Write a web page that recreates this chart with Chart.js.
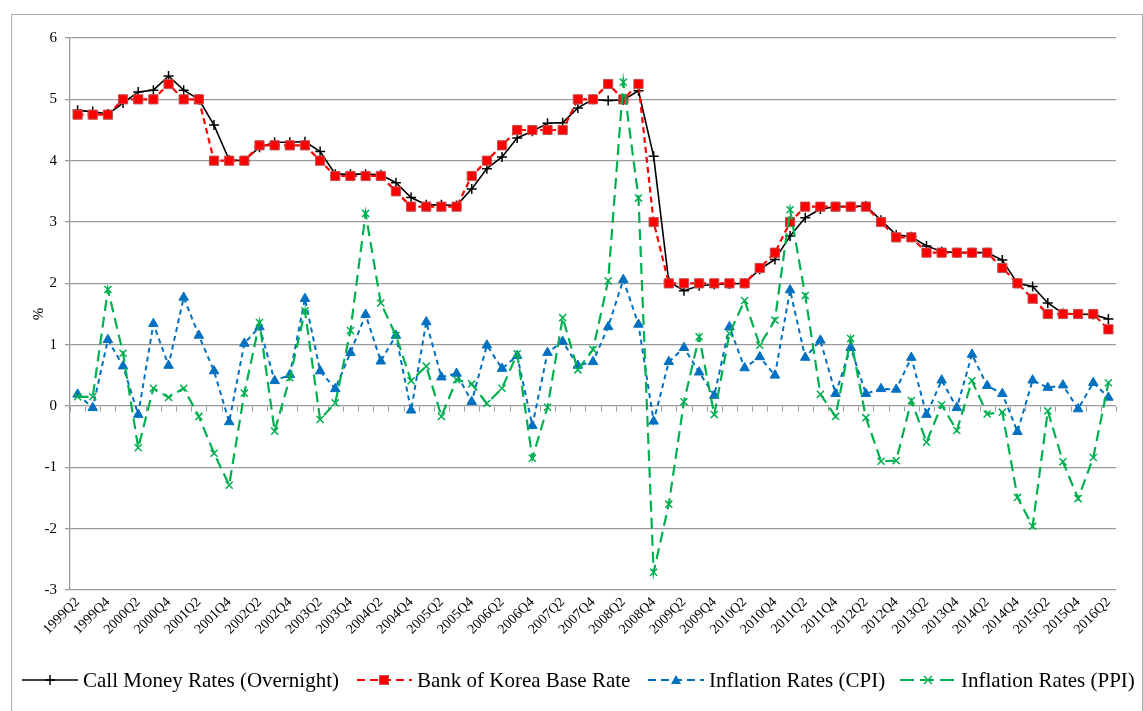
<!DOCTYPE html>
<html lang="en">
<head>
    <meta charset="UTF-8">
    <title>Korea Rates Chart</title>
    <script src="https://cdn.jsdelivr.net/npm/chart.js"></script>
    <style>
        body { margin: 0; background: #fff; }
        #wrap { position: relative; width: 1143px; height: 711px; overflow: hidden; }
        #frame { position: absolute; left: 11px; top: 14px; width: 1130px; height: 720px; border: 1px solid #b0b0b0; pointer-events: none; }
        #legend { position: absolute; left: 0; top: 666px; width: 1143px; height: 28px; font-family: "Liberation Serif", serif; font-size: 21px; }
        .item { position: absolute; top: 0; display: flex; align-items: center; height: 28px; white-space: nowrap; }
        .item svg { margin-right: 5px; }
    </style>
</head>
<body>
<div id="wrap">
    <canvas id="lineChart" width="1143" height="711"></canvas>
    <div id="frame"></div>
    <div id="legend">
        <div class="item" style="left:22px">
            <svg width="56" height="14"><line x1="0" y1="7" x2="56" y2="7" stroke="#000" stroke-width="1.5"/><line x1="28" y1="2" x2="28" y2="12" stroke="#000" stroke-width="1.5"/><line x1="23" y1="7" x2="33" y2="7" stroke="#000" stroke-width="1.5"/></svg>Call Money Rates (Overnight)
        </div>
        <div class="item" style="left:357px">
            <svg width="55" height="14"><line x1="0" y1="7" x2="55" y2="7" stroke="#ff0000" stroke-width="2.2" stroke-dasharray="8,5"/><rect x="22.5" y="2.5" width="9" height="9" fill="#ff0000" stroke="#c05050" stroke-width="1"/></svg>Bank of Korea Base Rate
        </div>
        <div class="item" style="left:648px">
            <svg width="56" height="14"><line x1="0" y1="7" x2="56" y2="7" stroke="#0070c0" stroke-width="2" stroke-dasharray="8,5"/><polygon points="28,2 33,11 23,11" fill="#0070c0"/></svg>Inflation Rates (CPI)
        </div>
        <div class="item" style="left:900px">
            <svg width="56" height="14"><line x1="0" y1="7" x2="56" y2="7" stroke="#00b050" stroke-width="2.2" stroke-dasharray="14,6"/><line x1="24" y1="3" x2="32" y2="11" stroke="#00b050" stroke-width="1.5"/><line x1="32" y1="3" x2="24" y2="11" stroke="#00b050" stroke-width="1.5"/></svg>Inflation Rates (PPI)
        </div>
    </div>
</div>
<script>
    const quarters = [
        '1999Q2','1999Q3','1999Q4','2000Q1','2000Q2','2000Q3','2000Q4','2001Q1','2001Q2','2001Q3',
        '2001Q4','2002Q1','2002Q2','2002Q3','2002Q4','2003Q1','2003Q2','2003Q3','2003Q4','2004Q1',
        '2004Q2','2004Q3','2004Q4','2005Q1','2005Q2','2005Q3','2005Q4','2006Q1','2006Q2','2006Q3',
        '2006Q4','2007Q1','2007Q2','2007Q3','2007Q4','2008Q1','2008Q2','2008Q3','2008Q4','2009Q1',
        '2009Q2','2009Q3','2009Q4','2010Q1','2010Q2','2010Q3','2010Q4','2011Q1','2011Q2','2011Q3',
        '2011Q4','2012Q1','2012Q2','2012Q3','2012Q4','2013Q1','2013Q2','2013Q3','2013Q4','2014Q1',
        '2014Q2','2014Q3','2014Q4','2015Q1','2015Q2','2015Q3','2015Q4','2016Q1','2016Q2'
    ];

    const callMoney = [
        4.82, 4.80, 4.76, 4.94, 5.12, 5.15, 5.38, 5.15, 5.00, 4.58,
        4.01, 4.00, 4.22, 4.30, 4.30, 4.31, 4.15, 3.78, 3.78, 3.78,
        3.77, 3.64, 3.40, 3.28, 3.28, 3.27, 3.54, 3.87, 4.06, 4.37,
        4.48, 4.61, 4.62, 4.86, 5.00, 4.98, 4.99, 5.14, 4.07, 2.03,
        1.88, 1.96, 1.98, 1.99, 2.00, 2.23, 2.39, 2.77, 3.07, 3.21,
        3.25, 3.25, 3.26, 3.03, 2.79, 2.76, 2.61, 2.52, 2.50, 2.50,
        2.50, 2.38, 2.00, 1.95, 1.68, 1.51, 1.50, 1.49, 1.42
    ];

    const baseRate = [
        4.75, 4.75, 4.75, 5.00, 5.00, 5.00, 5.25, 5.00, 5.00, 4.00,
        4.00, 4.00, 4.25, 4.25, 4.25, 4.25, 4.00, 3.75, 3.75, 3.75,
        3.75, 3.50, 3.25, 3.25, 3.25, 3.25, 3.75, 4.00, 4.25, 4.50,
        4.50, 4.50, 4.50, 5.00, 5.00, 5.25, 5.00, 5.25, 3.00, 2.00,
        2.00, 2.00, 2.00, 2.00, 2.00, 2.25, 2.50, 3.00, 3.25, 3.25,
        3.25, 3.25, 3.25, 3.00, 2.75, 2.75, 2.50, 2.50, 2.50, 2.50,
        2.50, 2.25, 2.00, 1.75, 1.50, 1.50, 1.50, 1.50, 1.25
    ];

    const cpi = [
        0.19, -0.03, 1.08, 0.65, -0.14, 1.34, 0.66, 1.77, 1.15, 0.57,
        -0.26, 1.02, 1.29, 0.41, 0.51, 1.75, 0.57, 0.28, 0.87, 1.49,
        0.73, 1.15, -0.07, 1.37, 0.47, 0.53, 0.07, 0.99, 0.61, 0.82,
        -0.32, 0.87, 1.05, 0.66, 0.72, 1.29, 2.06, 1.33, -0.25, 0.72,
        0.95, 0.55, 0.17, 1.29, 0.62, 0.80, 0.50, 1.89, 0.79, 1.07,
        0.20, 0.95, 0.20, 0.28, 0.27, 0.79, -0.14, 0.42, -0.03, 0.84,
        0.33, 0.20, -0.42, 0.42, 0.30, 0.34, -0.05, 0.38, 0.14
    ];

    const ppi = [
        0.15, 0.15, 1.90, 0.86, -0.68, 0.29, 0.14, 0.29, -0.17, -0.77,
        -1.29, 0.21, 1.36, -0.41, 0.46, 1.55, -0.22, 0.05, 1.23, 3.14,
        1.68, 1.15, 0.41, 0.65, -0.17, 0.43, 0.36, 0.04, 0.29, 0.85,
        -0.85, -0.02, 1.44, 0.59, 0.92, 2.04, 5.28, 3.39, -2.71, -1.60,
        0.07, 1.13, -0.14, 1.18, 1.72, 0.99, 1.40, 3.20, 1.80, 0.19,
        -0.17, 1.10, -0.19, -0.90, -0.89, 0.09, -0.59, 0.02, -0.40, 0.41,
        -0.13, -0.10, -1.49, -1.96, -0.08, -0.91, -1.51, -0.84, 0.38
    ];

    const serif = '"Liberation Serif", "Times New Roman", serif';

    // small tick marks on the zero line at category boundaries (like Excel)
    const zeroTicks = {
        id: 'zeroTicks',
        beforeDatasetsDraw(chart) {
            const x = chart.scales.x, y = chart.scales.y;
            const y0 = Math.round(y.getPixelForValue(0)) + 0.5;
            const ctx = chart.ctx;
            const n = quarters.length;
            const step = (x.right - x.left) / n;
            ctx.save();
            ctx.strokeStyle = '#9a9a9a';
            ctx.lineWidth = 1;
            ctx.beginPath();
            for (let i = 0; i <= n; i++) {
                const px = Math.round(x.left + i * step) + 0.5;
                ctx.moveTo(px, y0);
                ctx.lineTo(px, y0 + 5);
            }
            ctx.stroke();
            ctx.restore();
        }
    };

    const ctx = document.getElementById('lineChart').getContext('2d');
    new Chart(ctx, {
        type: 'line',
        data: {
            labels: quarters,
            datasets: [
                {
                    label: 'Call Money Rates (Overnight)',
                    data: callMoney,
                    borderColor: '#000000',
                    backgroundColor: '#000000',
                    borderWidth: 1.6,
                    pointStyle: 'cross',
                    pointRadius: 5,
                    pointBorderWidth: 1.5,
                    fill: false,
                    order: 4,
                },
                {
                    label: 'Bank of Korea Base Rate',
                    data: baseRate,
                    borderColor: '#ff0000',
                    backgroundColor: '#ff0000',
                    borderWidth: 2.2,
                    borderDash: [6, 4],
                    pointStyle: 'rect',
                    pointRadius: 6.5,
                    pointBackgroundColor: '#ff0000',
                    pointBorderColor: '#c05050',
                    pointBorderWidth: 1,
                    fill: false,
                    order: 3,
                },
                {
                    label: 'Inflation Rates (CPI)',
                    data: cpi,
                    borderColor: '#0070c0',
                    backgroundColor: '#0070c0',
                    borderWidth: 2,
                    borderDash: [5, 4],
                    pointStyle: 'triangle',
                    pointRadius: 5.5,
                    pointBorderWidth: 1,
                    fill: false,
                    order: 2,
                },
                {
                    label: 'Inflation Rates (PPI)',
                    data: ppi,
                    borderColor: '#00b050',
                    backgroundColor: '#00b050',
                    borderWidth: 2.2,
                    borderDash: [11, 6],
                    pointStyle: 'crossRot',
                    pointRadius: 5,
                    pointBorderWidth: 1.5,
                    fill: false,
                    order: 1,
                },
            ],
        },
        options: {
            responsive: false,
            animation: false,
            devicePixelRatio: 1,
            layout: { padding: { left: 0, top: 38, right: 27, bottom: 0 } },
            plugins: {
                legend: { display: false },
                tooltip: { enabled: false },
            },
            scales: {
                x: {
                    offset: true,
                    grid: { display: false, drawTicks: false },
                    border: { display: false },
                    ticks: {
                        autoSkip: false,
                        maxRotation: 45,
                        minRotation: 45,
                        padding: 4,
                        color: '#000',
                        font: { family: serif, size: 14 },
                        callback: (v, i) => (i % 2 === 0 ? quarters[i] : ''),
                    },
                    afterFit: (s) => { s.height = 121; },
                },
                y: {
                    min: -3,
                    max: 6,
                    ticks: {
                        stepSize: 1,
                        padding: 8,
                        color: '#000',
                        font: { family: serif, size: 15 },
                    },
                    grid: { color: '#9a9a9a', lineWidth: 1.3, tickLength: 5 },
                    border: { display: true, color: '#9a9a9a', width: 1.3 },
                    title: {
                        display: true,
                        text: '%',
                        color: '#000',
                        font: { family: serif, size: 15 },
                        padding: { top: 30, bottom: 0 },
                    },
                    afterFit: (s) => { s.width = 70; },
                },
            },
        },
        plugins: [zeroTicks],
    });
</script>
</body>
</html>
